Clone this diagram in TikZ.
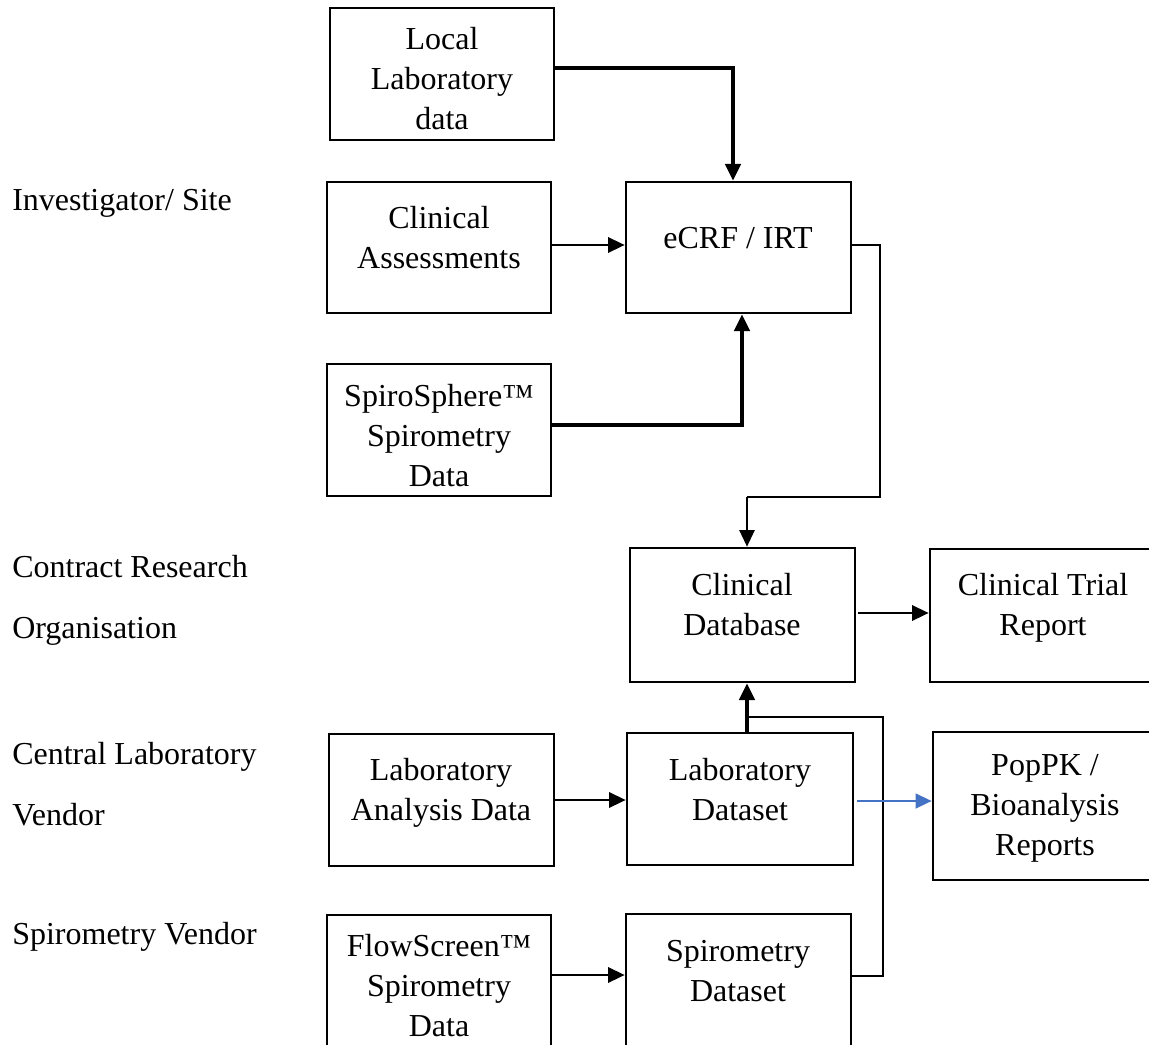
\documentclass[tikz,border=0pt]{standalone}
\usepackage{fontspec}
\setmainfont{Liberation Serif}
\usetikzlibrary{arrows.meta,fit}
\definecolor{arrowblue}{HTML}{4472C4}
\tikzset{
  box/.style={draw, line width=2pt, inner sep=0pt},
  txt/.style={align=center, inner sep=0pt, font=\fontsize{24}{30}\selectfont},
  side/.style={anchor=west, align=left, inner sep=0pt, font=\fontsize{24}{45.75}\selectfont},
  tip/.style={-{Triangle[length=12.5pt,width=11.5pt]}},
  thk/.style={line width=2.6pt, tip},
  med/.style={line width=1.8pt, tip},
  thn/.style={line width=0.8pt},
}
\begin{document}
\begin{tikzpicture}[x=0.75pt,y=-0.75pt]
\useasboundingbox (0,0) rectangle (1149,1045);
% boxes
\node[box, fit={(330,8)(554,140)}] (local) {};
\node[box, fit={(327,182)(551,313)}] (clin) {};
\node[box, fit={(626,182)(851,313)}] (ecrf) {};
\node[box, fit={(327,364)(551,496)}] (spiro) {};
\node[box, fit={(630,548)(855,682)}] (cdb) {};
\node[box, fit={(930,549)(1156,682)}] (ctr) {};
\node[box, fit={(329,734)(554,866)}] (labA) {};
\node[box, fit={(627,733)(853,865)}] (labD) {};
\node[box, fit={(933,732)(1158,880)}] (pop) {};
\node[box, fit={(327,915)(551,1070)}] (flow) {};
\node[box, fit={(626,914)(851,1070)}] (spiD) {};
% texts
\node[txt] (localT) at (442,79) {Local\\Laboratory\\data};
\node[txt] (clinT) at (439,238) {Clinical\\Assessments};
\node[txt] (ecrfT) at (738,238) {eCRF / IRT};
\node[txt] (spiroT) at (439,436) {SpiroSphere™\\Spirometry\\Data};
\node[txt] (cdbT) at (742,605) {Clinical\\Database};
\node[txt] (ctrT) at (1043,608) {Clinical Trial\\Report};
\node[txt] (labAT) at (441,793) {Laboratory\\Analysis Data};
\node[txt] (labDT) at (740,790) {Laboratory\\Dataset};
\node[txt] (popT) at (1045,808) {PopPK /\\Bioanalysis\\Reports};
\node[txt] (flowT) at (439,986) {FlowScreen™\\Spirometry\\Data};
\node[txt] (spiDT) at (738,971) {Spirometry\\Dataset};
% side labels
\node[side] (inv) at (12,203) {Investigator/ Site};
\node[side] (cro) at (12,600) {Contract Research\\Organisation};
\node[side] (cen) at (12,784) {Central Laboratory\\Vendor};
\node[side] (spv) at (12,937) {Spirometry Vendor};
% helper coordinates
\coordinate (c1) at (733,68);
\coordinate (c3) at (742,425);
\coordinate (c4) at (0,245);
\coordinate (c5) at (880,497);
\coordinate (c6) at (747,0);
\coordinate (c7) at (858,613);
\coordinate (c8) at (0,976);
\coordinate (c9) at (883,717);
\coordinate (c10) at (857,801);
\coordinate (c11) at (0,975);
% connectors
\draw[thk] (local.east |- c1) -| (c1 |- ecrf.north);
\draw[med] (clin.east |- c4) -- (ecrf.west |- c4);
\draw[thk] (spiro.east |- c3) -| (c3 |- ecrf.south);
\draw[thn] (ecrf.east |- c4) -| (c5) -- (c6 |- c5);
\draw[line width=1.2pt, tip] (c6 |- c5) -- (c6 |- cdb.north);
\draw[med] (c7) -- (ctr.west |- c7);
\draw[med] (labA.east) -- (labD.west |- labA.east);
\draw[thk] (c6 |- labD.north) -- (c6 |- cdb.south);
\draw[thn] (spiD.east |- c8) -| (c9) -- (c6 |- c9);
\draw[line width=1.7pt, arrowblue, -{Triangle[length=12pt,width=11pt]}] (c10) -- (pop.west |- c10);
\draw[med] (flow.east |- c11) -- (spiD.west |- c11);
\end{tikzpicture}
\end{document}
